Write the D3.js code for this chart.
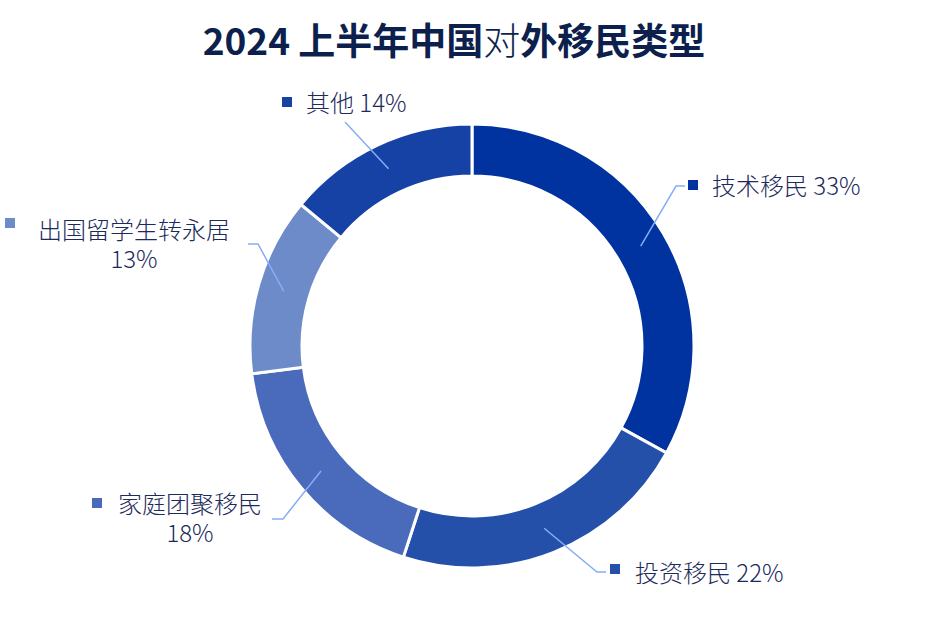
<!DOCTYPE html>
<html>
<head>
<meta charset="utf-8">
<script src="https://cdn.jsdelivr.net/npm/d3@7"></script>
<style>
  body { margin: 0; background: #fff; }
  text { font-family: "Noto Sans CJK SC", "Noto Sans", sans-serif; }
</style>
</head>
<body>
<div id="chart"></div>
<script>
// data
const categories = ["技术移民", "投资移民", "家庭团聚移民", "出国留学生转永居", "其他"];
const values = [33, 22, 18, 13, 14];
const colours = ["#0033a0", "#2550aa", "#4a6bbb", "#6d8ac9", "#1642a6"];
const titleParts = ["2024 上半年中国", "对", "外移民类型"];

// label layout (elbow of leader, end of leader, marker, text start / centre)
const labelLayout = [
  {elbow: [676, 186], end: [685, 186], marker: [688, 180], text: [712, 195], wrap: false},
  {elbow: [597, 572], end: [606, 572], marker: [610, 564], text: [635, 582], wrap: false},
  {elbow: [283, 519], end: [272, 519], marker: [92, 498], text: [190, 513], wrap: true},
  {elbow: [258, 244], end: [248, 244], marker: [5, 218], text: [134, 239], wrap: true},
  {elbow: [345, 122], end: [345, 122], marker: [282, 97], text: [306, 112], wrap: false}
];

const width = 940, height = 627;
const cx = 472, cy = 346;
const outerR = 222, innerR = 170;

const svg = d3.select("#chart")
  .append("svg")
  .attr("width", width)
  .attr("height", height);

// title
const title = svg.append("text")
  .attr("x", 454)
  .attr("y", 55)
  .attr("text-anchor", "middle")
  .attr("fill", "#0c1f4d")
  .style("font-size", "37px")
  .style("font-weight", "700");

titleParts.forEach(function(t, i) {
  title.append("tspan")
    .text(t)
    .style("font-weight", i === 1 ? "300" : "700");
});

const pie = d3.pie()
  .sort(null)
  .value(function(d) { return d; });

const arcs = pie(values);

const arc = d3.arc()
  .innerRadius(innerR)
  .outerRadius(outerR);

// leaders start in the middle of the ring
const midArc = d3.arc()
  .innerRadius((innerR + outerR) / 2)
  .outerRadius((innerR + outerR) / 2);

const g = svg.append("g")
  .attr("transform", `translate(${cx}, ${cy})`);

g.selectAll("path.slice")
  .data(arcs)
  .enter()
  .append("path")
  .attr("class", "slice")
  .attr("d", arc)
  .attr("fill", function(d, i) { return colours[i]; })
  .attr("stroke", "#fff")
  .attr("stroke-width", 3);

// leader lines
svg.selectAll("polyline.leader")
  .data(arcs)
  .enter()
  .append("polyline")
  .attr("class", "leader")
  .attr("points", function(d, i) {
    const c = midArc.centroid(d);
    const L = labelLayout[i];
    return [[c[0] + cx, c[1] + cy], L.elbow, L.end].map(function(p) { return p.join(","); }).join(" ");
  })
  .attr("fill", "none")
  .attr("stroke", "#86adf7")
  .attr("stroke-width", 1.5);

// markers
svg.selectAll("rect.marker")
  .data(arcs)
  .enter()
  .append("rect")
  .attr("class", "marker")
  .attr("x", function(d, i) { return labelLayout[i].marker[0]; })
  .attr("y", function(d, i) { return labelLayout[i].marker[1]; })
  .attr("width", 10)
  .attr("height", 10)
  .attr("fill", function(d, i) { return colours[i]; });

// label texts
arcs.forEach(function(d, i) {
  const L = labelLayout[i];
  if (L.wrap) {
    svg.append("text")
      .attr("x", L.text[0]).attr("y", L.text[1])
      .attr("text-anchor", "middle")
      .attr("fill", "#1c2a5c")
      .style("font-size", "24px")
      .style("font-weight", "300")
      .text(categories[i]);
    svg.append("text")
      .attr("x", L.text[0]).attr("y", L.text[1] + 29)
      .attr("text-anchor", "middle")
      .attr("fill", "#1c2a5c")
      .style("font-size", "24px")
      .style("font-weight", "300")
      .text(values[i] + "%");
  } else {
    svg.append("text")
      .attr("x", L.text[0]).attr("y", L.text[1])
      .attr("fill", "#1c2a5c")
      .style("font-size", "24px")
      .style("font-weight", "300")
      .text(categories[i] + " " + values[i] + "%");
  }
});
</script>
</body>
</html>
